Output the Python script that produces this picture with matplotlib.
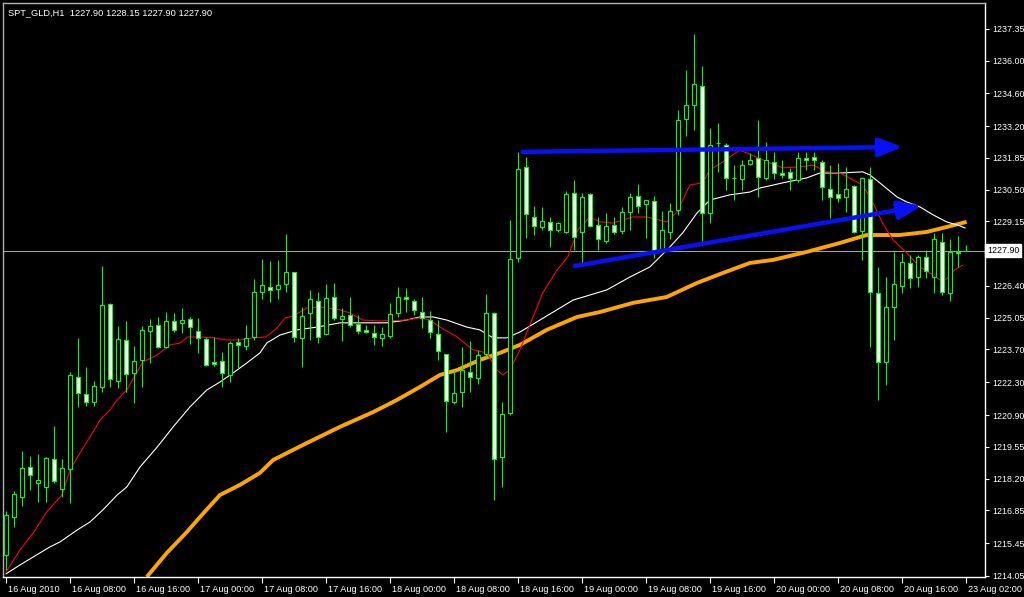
import matplotlib
matplotlib.use('Agg')
import matplotlib.pyplot as plt
import matplotlib.transforms as mtransforms

plt.rcParams['font.family'] = ['Liberation Sans', 'DejaVu Sans']

# ─────────────────────────────────────────────
#  SPT_GLD H1 bars (index 0 = 16 Aug 2010 00:00)
# ─────────────────────────────────────────────
opens = [1214.95, 1216.56, 1217.41, 1218.69, 1218.01, 1217.84, 1219.03, 1217.76, 1218.61, 1222.53,
         1221.80, 1221.46, 1222.10, 1225.63, 1222.36, 1224.10, 1222.70, 1223.25, 1224.48, 1224.74,
         1223.80, 1224.91, 1224.83, 1224.99, 1224.48, 1224.14, 1223.16, 1223.21, 1222.61, 1224.02,
         1223.85, 1224.23, 1226.15, 1226.36, 1226.27, 1226.49, 1227.00, 1224.19, 1225.25, 1225.76,
         1224.36, 1225.93, 1224.99, 1225.17, 1224.78, 1224.53, 1224.40, 1224.19, 1224.27, 1225.25,
         1225.93, 1225.76, 1225.29, 1224.95, 1224.36, 1223.51, 1221.46, 1221.89, 1222.74, 1222.48,
         1223.51, 1225.25, 1219.12, 1220.99, 1227.59, 1231.47, 1229.34, 1228.91, 1229.13, 1228.79,
         1228.70, 1230.36, 1228.70, 1230.32, 1229.00, 1228.32, 1229.00, 1228.74, 1229.55, 1230.23,
         1229.89, 1230.02, 1227.93, 1228.70, 1229.64, 1233.51, 1234.11, 1234.92, 1229.51, 1232.47,
         1232.41, 1231.00, 1230.96, 1231.60, 1231.85, 1230.99, 1231.68, 1231.21, 1231.26, 1230.92,
         1231.85, 1231.90, 1231.68, 1230.53, 1230.32, 1230.19, 1230.66, 1228.74, 1230.96, 1226.10,
         1223.16, 1225.51, 1226.40, 1227.38, 1226.78, 1227.64, 1226.78, 1228.28, 1226.10, 1227.81,
         1227.90]
highs = [1216.80, 1217.67, 1219.37, 1219.16, 1219.25, 1219.12, 1220.44, 1219.03, 1222.74, 1224.19,
         1222.95, 1222.36, 1227.25, 1225.68, 1224.70, 1224.91, 1223.85, 1224.70, 1225.00, 1225.08,
         1225.29, 1225.25, 1225.46, 1225.08, 1225.04, 1224.23, 1224.23, 1223.59, 1224.06, 1224.19,
         1224.74, 1226.70, 1227.55, 1227.47, 1227.51, 1228.62, 1227.00, 1225.51, 1226.23, 1226.15,
         1226.49, 1226.53, 1225.46, 1225.93, 1225.17, 1224.74, 1224.74, 1224.65, 1225.68, 1226.36,
         1226.32, 1225.85, 1225.93, 1225.34, 1224.95, 1223.51, 1222.82, 1223.80, 1224.06, 1223.68,
         1226.06, 1225.29, 1221.46, 1229.21, 1232.11, 1231.90, 1229.81, 1229.77, 1229.34, 1229.13,
         1230.45, 1230.92, 1230.36, 1230.36, 1229.34, 1229.51, 1229.34, 1229.77, 1230.36, 1230.75,
         1230.06, 1230.23, 1229.60, 1229.94, 1233.90, 1235.60, 1237.13, 1235.77, 1233.13, 1233.34,
         1232.49, 1231.55, 1231.77, 1232.07, 1233.47, 1232.53, 1232.11, 1231.77, 1231.43, 1232.11,
         1232.11, 1232.11, 1231.77, 1231.55, 1231.64, 1231.47, 1230.70, 1231.04, 1231.47, 1227.21,
         1226.78, 1227.85, 1227.81, 1227.72, 1227.72, 1227.93, 1228.66, 1228.66, 1228.40, 1228.53,
         1228.15]
lows = [1214.30, 1216.14, 1217.03, 1217.71, 1217.20, 1217.20, 1218.01, 1217.41, 1217.16, 1221.25,
        1221.29, 1221.29, 1221.89, 1222.10, 1222.06, 1221.89, 1221.42, 1222.10, 1223.12, 1223.76,
        1223.76, 1224.44, 1224.40, 1223.93, 1223.55, 1223.00, 1223.00, 1222.10, 1222.31, 1222.91,
        1223.68, 1224.10, 1225.85, 1225.72, 1225.85, 1226.15, 1224.02, 1222.95, 1224.10, 1223.97,
        1224.32, 1224.95, 1224.06, 1224.65, 1224.36, 1224.40, 1223.89, 1223.85, 1224.19, 1225.08,
        1225.29, 1225.17, 1224.61, 1224.19, 1223.25, 1220.18, 1221.38, 1221.25, 1221.89, 1222.23,
        1223.34, 1217.29, 1217.84, 1220.90, 1227.42, 1228.45, 1228.57, 1228.79, 1228.06, 1228.70,
        1228.66, 1227.93, 1227.30, 1228.91, 1227.93, 1228.23, 1228.62, 1228.62, 1228.79, 1229.51,
        1228.45, 1227.59, 1227.85, 1228.40, 1229.43, 1232.79, 1233.05, 1228.28, 1229.08, 1231.26,
        1230.49, 1230.06, 1230.49, 1231.55, 1230.19, 1230.92, 1230.96, 1231.00, 1230.49, 1230.83,
        1231.34, 1231.34, 1230.06, 1229.30, 1229.98, 1229.55, 1228.66, 1227.51, 1223.80, 1221.55,
        1222.18, 1224.10, 1226.10, 1226.32, 1226.36, 1226.74, 1226.10, 1226.02, 1225.76, 1227.21,
        1227.90]
closes = [1216.65, 1217.54, 1218.65, 1218.35, 1218.14, 1219.08, 1218.10, 1218.65, 1222.61, 1221.84,
          1221.46, 1222.14, 1225.59, 1222.44, 1224.14, 1222.65, 1223.21, 1224.53, 1224.70, 1223.80,
          1224.91, 1224.53, 1224.95, 1224.65, 1224.19, 1223.04, 1223.08, 1222.70, 1223.97, 1223.89,
          1224.19, 1226.15, 1226.44, 1226.23, 1226.44, 1227.00, 1224.23, 1225.12, 1225.85, 1224.23,
          1225.89, 1225.04, 1225.12, 1224.74, 1224.48, 1224.44, 1224.23, 1224.36, 1225.21, 1225.93,
          1225.85, 1225.38, 1225.04, 1224.44, 1223.63, 1221.50, 1221.84, 1222.82, 1222.53, 1223.46,
          1225.25, 1219.03, 1220.95, 1227.55, 1231.38, 1229.47, 1228.96, 1229.17, 1228.79, 1229.08,
          1230.32, 1228.49, 1230.19, 1228.96, 1228.40, 1228.96, 1228.70, 1229.55, 1230.19, 1229.81,
          1230.06, 1227.85, 1228.79, 1229.60, 1233.47, 1234.11, 1235.00, 1229.51, 1232.41, 1232.49,
          1231.00, 1230.98, 1231.55, 1231.77, 1231.04, 1231.77, 1231.21, 1231.13, 1231.00, 1231.85,
          1231.77, 1231.77, 1230.62, 1230.19, 1230.15, 1230.53, 1228.70, 1230.99, 1226.15, 1223.16,
          1225.51, 1226.49, 1227.42, 1226.74, 1227.64, 1227.04, 1228.40, 1226.15, 1227.85, 1227.85,
          1227.90]

# moving averages as (bar position, price)
ma_red_x = [0, 1.75, 3.4, 5.1, 7, 8, 9.25, 10.5, 11.75, 13, 13.9, 15.1, 16.4, 17.1, 18.9, 20.5,
            21.75, 22.75, 24.25, 25.9, 27.6, 29.25, 30.9, 32.5, 33.9, 34.9, 35.9, 37.6, 39.25,
            41.75, 43, 44.6, 46.75, 50.1, 51.75, 53, 54.25, 56.4, 58.4, 60.1, 61.4, 62.1, 63,
            64.25, 67.1, 68.9, 70.25, 71.5, 73, 74.25, 75.9, 78.4, 80.1, 82.6, 83.9, 85.5, 87.1,
            88, 89.6, 91.75, 95.5, 97.1, 99.25, 100.9, 102.6, 104.25, 105.9, 107.1, 108.4, 109.6,
            110.9, 112.6, 114.25, 115.9, 116.75, 117.6, 118.6, 119.6]
ma_red_y = [1214.22, 1215.16, 1215.88, 1216.78, 1217.50, 1218.56, 1219.29, 1219.97, 1220.69,
            1221.12, 1221.55, 1221.97, 1222.74, 1223.16, 1223.46, 1223.89, 1223.97, 1224.23,
            1224.23, 1224.19, 1224.10, 1224.10, 1224.19, 1224.23, 1224.61, 1225.04, 1225.12,
            1225.46, 1225.51, 1225.38, 1225.25, 1224.95, 1224.91, 1224.95, 1225.04, 1224.95,
            1224.65, 1224.23, 1223.68, 1223.55, 1222.82, 1222.61, 1222.82, 1223.68, 1226.10,
            1227.08, 1227.64, 1228.79, 1229.34, 1229.13, 1229.08, 1229.34, 1229.34, 1229.13,
            1229.55, 1230.70, 1230.79, 1231.34, 1231.68, 1232.19, 1231.64, 1231.43, 1231.47,
            1231.55, 1231.26, 1231.21, 1230.92, 1230.70, 1229.94, 1229.08, 1228.36, 1227.81,
            1227.21, 1226.87, 1226.66, 1226.70, 1227.08, 1227.29]

ma_white_x = [0, 1.75, 3.4, 5.5, 6.75, 8.9, 10.5, 12.1, 13.9, 15.1, 16.75, 18.9, 20.9, 23, 25.1,
              26.75, 28.4, 30.1, 31.75, 32.6, 34.25, 36.4, 38.9, 41.75, 47.6, 50.1, 51.75, 53.4,
              55.1, 57.6, 59.25, 60.9, 62.6, 64.25, 65.1, 70.9, 75.1, 78, 80.5, 83, 84.6, 86.4,
              88, 90.5, 93, 94.25, 97.1, 100.1, 101.75, 104.25, 107.1, 108, 109.25, 111.4,
              112.6, 114.25, 115.9, 117.6, 119.25, 119.9]
ma_white_y = [1214.14, 1214.52, 1214.86, 1215.29, 1215.50, 1216.01, 1216.35, 1216.86, 1217.50,
              1217.84, 1218.69, 1219.54, 1220.40, 1221.25, 1221.97, 1222.31, 1222.70, 1223.12,
              1223.55, 1223.97, 1224.31, 1224.53, 1224.65, 1224.83, 1224.83, 1224.95, 1225.08,
              1225.08, 1224.95, 1224.65, 1224.53, 1224.19, 1224.19, 1224.44, 1224.61, 1225.80,
              1226.23, 1226.78, 1227.21, 1228.06, 1228.66, 1229.51, 1230.06, 1230.28, 1230.40,
              1230.57, 1230.79, 1231.00, 1231.21, 1231.21, 1231.26, 1231.13, 1230.79, 1230.19,
              1229.98, 1229.77, 1229.43, 1229.13, 1228.96, 1228.87]

ma_orange_x = [17.6, 20.1, 22.6, 24.25, 26.75, 29.25, 31.75, 33.4, 37.6, 41.75, 45.9, 48.9, 51.75,
               54.25, 56.4, 59.25, 61.75, 64.25, 67.6, 71.4, 74.25, 78.4, 82.6, 86.4, 89.6, 93,
               95.9, 100.1, 104.25, 107.6, 111.75, 115.1, 117.6, 120.1]
ma_orange_y = [1214.01, 1215.03, 1215.92, 1216.56, 1217.50, 1217.93, 1218.44, 1218.99, 1219.71,
               1220.40, 1221.03, 1221.55, 1222.10, 1222.61, 1222.82, 1223.25, 1223.55, 1223.89,
               1224.53, 1225.08, 1225.29, 1225.68, 1225.93, 1226.53, 1226.95, 1227.38, 1227.51,
               1227.85, 1228.23, 1228.57, 1228.57, 1228.70, 1228.91, 1229.13]

# hand-drawn arrows: (bar, price) start -> end
arrow_top = [(64.6, 1232.11), (112.1, 1232.32)]
arrow_low = [(71.1, 1227.25), (114.5, 1229.81)]

bid = 1227.90
title = "SPT_GLD,H1  1227.90 1228.15 1227.90 1227.90"

ytick_vals = [1237.35, 1236.00, 1234.60, 1233.20, 1231.85, 1230.50, 1229.15, 1226.40, 1225.05,
              1223.70, 1222.30, 1220.90, 1219.55, 1218.20, 1216.85, 1215.45, 1214.05]
xtick_pos = [0, 8, 16, 24, 32, 40, 48, 56, 64, 72, 80, 88, 96, 104, 112, 120]
xtick_labels = ["16 Aug 2010", "16 Aug 08:00", "16 Aug 16:00", "17 Aug 00:00", "17 Aug 08:00",
                "17 Aug 16:00", "18 Aug 00:00", "18 Aug 08:00", "18 Aug 16:00", "19 Aug 00:00",
                "19 Aug 08:00", "19 Aug 16:00", "20 Aug 00:00", "20 Aug 08:00", "20 Aug 16:00",
                "23 Aug 02:00"]

W, H = 1024, 597
fig = plt.figure(figsize=(W / 100, H / 100), dpi=100, facecolor='black')
ax = fig.add_axes([3 / W, 20 / H, 982 / W, 574 / H], facecolor='black')

# indicators first, candles drawn on top (chart in foreground)
ax.plot(ma_orange_x, ma_orange_y, color='#FFA500', lw=2.8, zorder=2, solid_capstyle='butt')
ax.plot(ma_white_x, ma_white_y, color='white', lw=0.8, zorder=2)
ax.plot(ma_red_x, ma_red_y, color='#FF0000', lw=0.8, zorder=2)

ax.axhline(bid, color='#A0A0A0', lw=0.8, zorder=1)

xs = list(range(len(opens)))
ax.vlines(xs, lows, highs, color='#00FF00', lw=0.8, zorder=3)
bottoms = [min(o, c) for o, c in zip(opens, closes)]
heights = [abs(c - o) for o, c in zip(opens, closes)]
fills = ['white' if c < o else 'black' for o, c in zip(opens, closes)]
ax.bar(xs, heights, bottom=bottoms, width=0.5, color=fills, edgecolor='#00FF00',
       linewidth=0.8, zorder=4)

for (x0, y0), (x1, y1) in (arrow_top, arrow_low):
    ax.annotate("", xy=(x1, y1), xytext=(x0, y0),
                arrowprops=dict(arrowstyle='-|>,head_length=1.4,head_width=0.55',
                                color='#0A10F5', lw=3.2, shrinkA=0, shrinkB=0,
                                mutation_scale=10),
                zorder=6)

ax.set_xlim(-0.375, 122.4)
ax.set_ylim(1214.007, 1238.45)

for s in ('left', 'top'):
    ax.spines[s].set_color('#B0B0B0')
for s in ('right', 'bottom'):
    ax.spines[s].set_color('white')
for s in ax.spines.values():
    s.set_linewidth(1.0)

ax.yaxis.tick_right()
ax.set_yticks(ytick_vals)
ax.set_yticklabels([f"{v:.2f}" for v in ytick_vals])
ax.tick_params(axis='y', colors='white', labelcolor='white', direction='out', length=3,
               width=0.8, pad=2, labelsize=6.4)
ax.set_xticks(xtick_pos)
ax.set_xticklabels(xtick_labels, ha='left')
ax.tick_params(axis='x', colors='white', labelcolor='white', direction='out', length=4,
               width=0.8, pad=2, labelsize=6.6)
for lbl in ax.get_xticklabels():
    lbl.set_transform(lbl.get_transform() + mtransforms.ScaledTranslation(2 / 100, 0, fig.dpi_scale_trans))

# bid price box on the price scale
trans = mtransforms.blended_transform_factory(ax.transAxes, ax.transData)
ax.text(1.0 + 2 / 982, bid, f"{bid:.2f}", transform=trans, ha='left', va='center',
        fontsize=6.4, color='black', zorder=10, clip_on=False,
        bbox=dict(boxstyle='square,pad=0.2', facecolor='white', edgecolor='white'))

fig.text(8 / W, 1 - 13 / H, title, color='white', fontsize=6.7, ha='left', va='center')

fig.savefig('out.png', dpi=100, facecolor='black')
